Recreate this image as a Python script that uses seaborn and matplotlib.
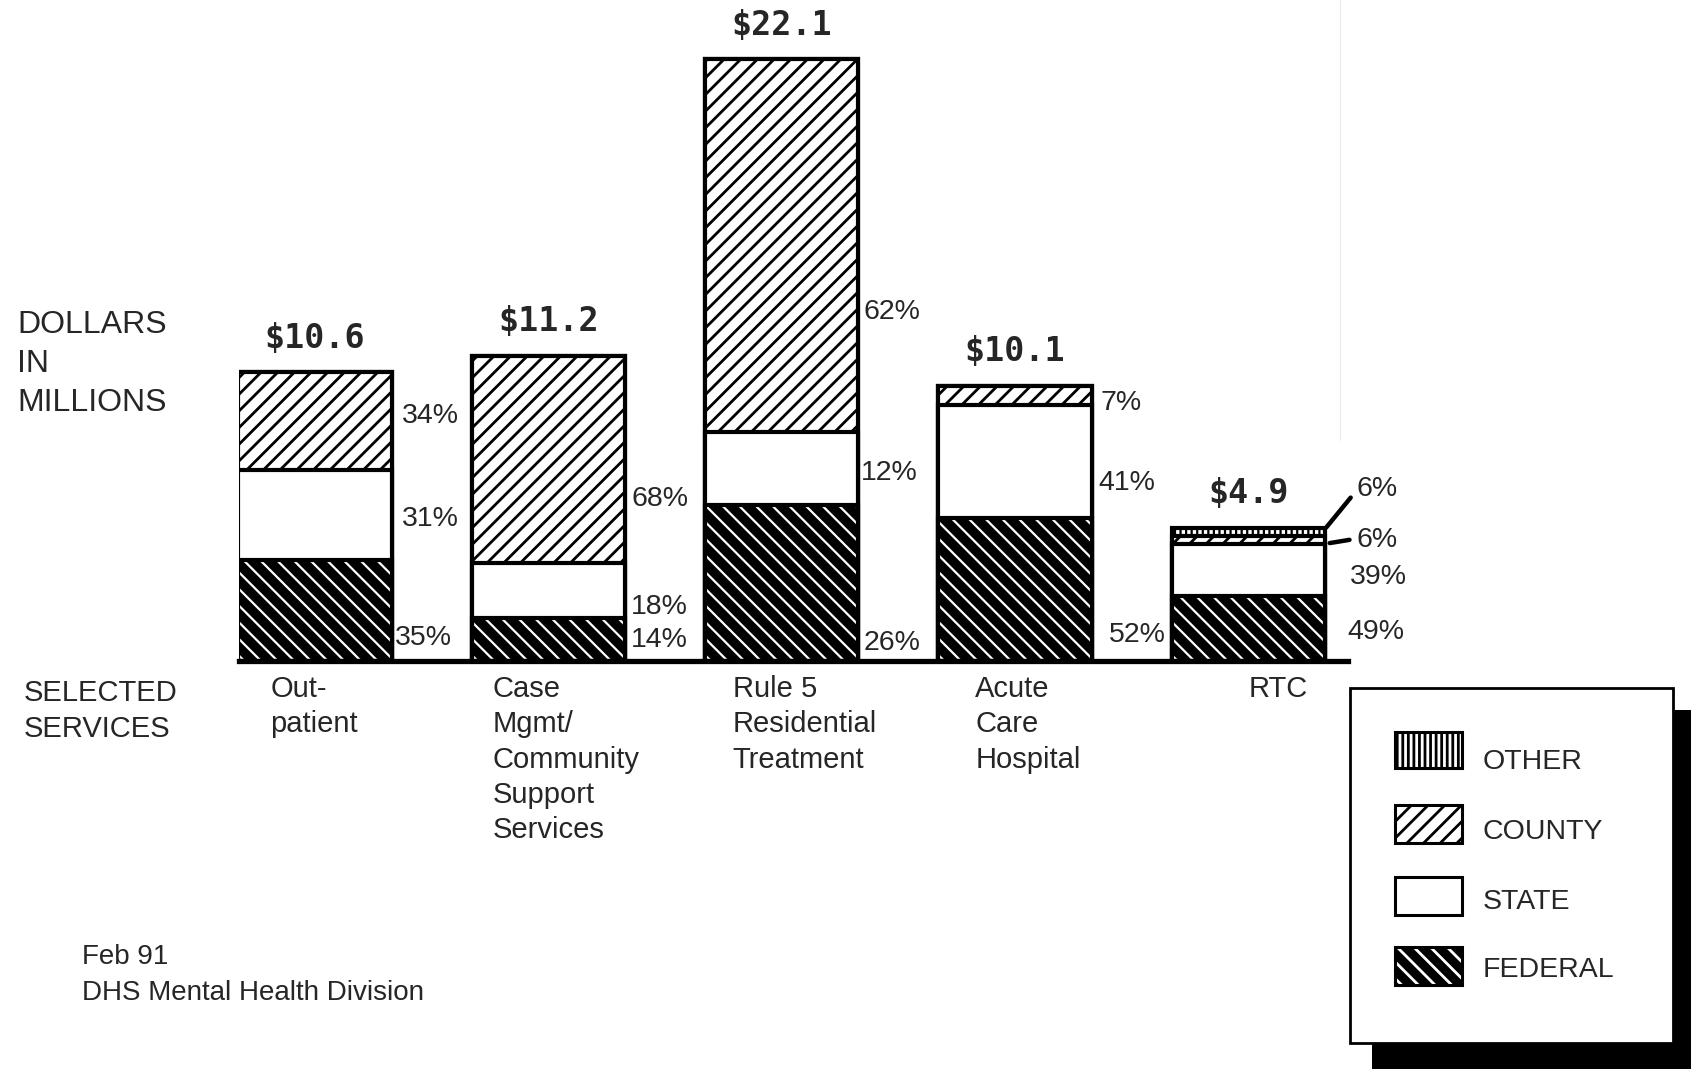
import matplotlib
matplotlib.use("Agg")
import matplotlib.pyplot as plt
import seaborn as sns
import numpy as np
from matplotlib.patches import Rectangle

# ---------------- data ----------------
service_keys = ["Outpatient", "CaseMgmt", "Rule5", "Acute", "RTC"]
service_labels = ["Out-\npatient", "Case\nMgmt/\nCommunity\nSupport\nServices",
                  "Rule 5\nResidential\nTreatment", "Acute\nCare\nHospital", "RTC"]
totals = [10.6, 11.2, 22.1, 10.1, 4.9]          # dollars in millions
total_labels = ["$10.6", "$11.2", "$22.1", "$10.1", "$4.9"]
federal_pct = [35, 14, 26, 52, 49]
state_pct = [31, 18, 12, 41, 39]
county_pct = [34, 68, 62, 7, 6]
other_pct = [0, 0, 0, 0, 6]
legend_names = ["OTHER", "COUNTY", "STATE", "FEDERAL"]

# ---------------- layout helpers (annotation positions, not data) ----------------
W, H = 1691, 1069
pct_label_y = [[9.0, 5.2, 0.85], [5.95, 1.98, 0.77], [12.8, 6.9, 0.67],
               [9.47, 6.53, 0.95], [6.3, 4.45, 3.08, 1.07]]
pct_label_dx = [[0.046, 0.046, 0.014], [0.028, 0.026, 0.026], [0.023, 0.01, 0.023],
                [0.037, 0.028, 0.074], [0.134, 0.134, 0.106, 0.097]]
cat_label_dx = [-0.19, -0.24, -0.21, -0.17, 0.0]

sns.set_theme(style="white")
plt.rcParams['font.family'] = ['Liberation Sans', 'DejaVu Sans']
plt.rcParams['hatch.linewidth'] = 2.0

fig = plt.figure(figsize=(W / 100, H / 100), dpi=100)
fig.patch.set_facecolor("white")

ax_left, ax_right = 239 / W, 1348 / W
ax_bottom = (H - 661) / H
ax = fig.add_axes([ax_left, ax_bottom, ax_right - ax_left, 1 - ax_bottom])

tot = np.array(totals)
fed = tot * np.array(federal_pct) / 100
sta = tot * np.array(state_pct) / 100
cou = tot * np.array(county_pct) / 100
oth = tot * np.array(other_pct) / 100

cum_state = fed + sta
cum_county = cum_state + cou
cum_other = cum_county + oth

BW = 0.657
LW = 3.0

def layer(values, face, hatch, edge="black", lw=LW, hlw=None):
    sns.barplot(x=service_keys, y=list(values), order=service_keys, color=face,
                width=BW, saturation=1, errorbar=None, ax=ax)
    for p in ax.containers[-1]:
        p.set_facecolor(face)
        p.set_edgecolor(edge)
        p.set_linewidth(lw)
        p.set_hatch(hatch)
        if hlw is not None and hasattr(p, "set_hatch_linewidth"):
            p.set_hatch_linewidth(hlw)
    return ax.containers[-1]

layer(cum_other, "white", "|||", hlw=1.6)
layer(cum_county, "white", "//", hlw=2.0)
layer(cum_state, "white", "")
layer(fed, "black", "\\\\", edge="white", lw=0, hlw=1.6)
cont = layer(fed, "white", "")
for p in cont:
    p.set_facecolor("none")
    p.set_edgecolor("black")

ax.set_xlim(-0.325, 4.427)
ax.set_ylim(0, 661 / 27.23)
ax.set_xticks([])
ax.set_yticks([])
ax.set_xlabel("")
ax.set_ylabel("")
for s in ["top", "left", "right"]:
    ax.spines[s].set_visible(False)
ax.spines["bottom"].set_linewidth(3.8)
ax.spines["bottom"].set_color("black")
ax.patch.set_alpha(0)

# totals above bars
for i, (t, lab) in enumerate(zip(totals, total_labels)):
    ax.text(i, t + 1.25, lab, ha="center", va="center", fontsize=24,
            fontweight="bold", family="DejaVu Sans Mono", clip_on=False)

# percentage labels
for i in range(len(service_keys)):
    pcts = [other_pct[i], county_pct[i], state_pct[i], federal_pct[i]]
    pcts = [p for p in pcts if p > 0]
    for j, p in enumerate(pcts):
        ax.text(i + BW / 2 + pct_label_dx[i][j], pct_label_y[i][j], f"{p}%",
                ha="left", va="center", fontsize=20.5, clip_on=False)

# leader lines for RTC small segments
ax.plot([4 + BW / 2 + 0.005, 4 + BW / 2 + 0.11], [4.9, 6.0], color="black", lw=3.2,
        clip_on=False, solid_capstyle="round")
ax.plot([4 + BW / 2 + 0.02, 4 + BW / 2 + 0.105], [4.33, 4.45], color="black", lw=3.2,
        clip_on=False, solid_capstyle="round")

# category labels
for i, lab in enumerate(service_labels):
    ax.text(i + cat_label_dx[i], -0.52, lab, ha="left", va="top", fontsize=21,
            linespacing=1.33, clip_on=False)

# side labels
fig.text(17 / W, 1 - 364 / H, "DOLLARS\nIN\nMILLIONS", ha="left", va="center",
         fontsize=23, linespacing=1.4)
fig.text(24 / W, 1 - 711 / H, "SELECTED\nSERVICES", ha="left", va="center",
         fontsize=21, linespacing=1.35)
fig.text(82 / W, 1 - 975 / H, "Feb 91\nDHS Mental Health Division", ha="left",
         va="center", fontsize=20, linespacing=1.5)

# faint scanning guide line
fig.add_artist(plt.Line2D([1340 / W, 1340 / W], [1.0, 1 - 440 / H], transform=fig.transFigure,
                          color="#e4e4e4", lw=0.6))

# legend box with shadow
def px_rect(x0, y0, x1, y1, **kw):
    r = Rectangle((x0 / W, 1 - y1 / H), (x1 - x0) / W, (y1 - y0) / H,
                  transform=fig.transFigure, **kw)
    fig.add_artist(r)
    return r

px_rect(1372, 710, 1695, 1075, facecolor="black", edgecolor="none", zorder=5)
px_rect(1350, 688, 1673, 1043, facecolor="white", edgecolor="black", lw=2, zorder=6)

sw_rows = [(732, 768), (805, 843), (877, 915), (947, 985)]
txt_y = [762, 832, 902, 970]
sw_style = [("white", "|||", "black"), ("white", "//", "black"),
            ("white", "", "black"), ("black", "\\\\", "white")]
for (y0, y1), ty, (face, hatch, hc), name in zip(sw_rows, txt_y, sw_style, legend_names):
    px_rect(1395, y0, 1462, y1, facecolor=face, edgecolor=hc, lw=0, hatch=hatch, zorder=7)
    px_rect(1395, y0, 1462, y1, facecolor="none", edgecolor="black", lw=2.2, zorder=8)
    fig.text(1483 / W, 1 - ty / H, name, ha="left", va="center",
             fontsize=20.5, zorder=9)

fig.savefig("out.png", dpi=100, facecolor="white")
